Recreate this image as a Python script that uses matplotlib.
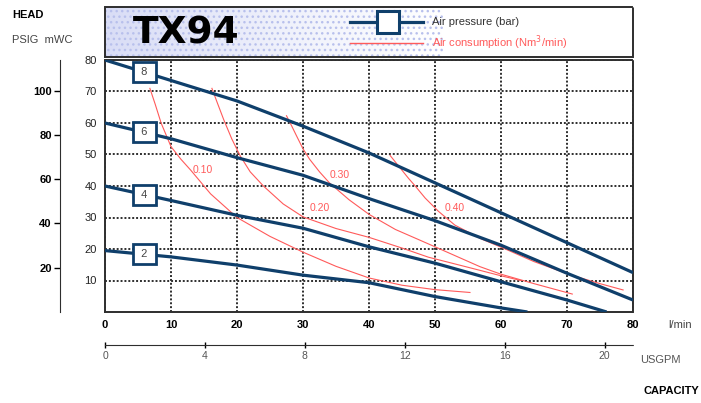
import numpy as np
import matplotlib
matplotlib.use("Agg")
import matplotlib.pyplot as plt
from matplotlib.patches import Rectangle

# pump curves, flow (l/min) vs head (mWC), one per air pressure
bar_labels = ["8", "6", "4", "2"]
p8_flow = [0, 10, 20, 30, 40, 50, 60, 70, 80]
p8_head = [80, 73.5, 67, 59, 50.5, 41, 31.5, 22, 12.5]
p6_flow = [0, 10, 20, 30, 40, 50, 60, 70, 80]
p6_head = [60, 55, 49, 43.4, 36, 29, 21.2, 12.3, 3.8]
p4_flow = [0, 10, 20, 30, 40, 50, 60, 70, 76]
p4_head = [40, 35.4, 30.7, 26.6, 20.7, 15.5, 9.6, 3.8, 0]
p2_flow = [0, 10, 20, 30, 40, 50, 60, 64]
p2_head = [19.5, 17.5, 14.9, 11.7, 9.3, 4.9, 1.3, 0]

# air consumption lines (Nm3/min)
air_labels = ["0.10", "0.20", "0.30", "0.40"]
a10_flow = [6.8, 7.6, 8.5, 9.3, 10, 11.5, 13, 16, 20, 25, 30, 35, 40, 45, 50, 55.3]
a10_head = [71, 66, 60, 56, 52.5, 48.5, 45, 37.5, 30, 24, 19, 14.5, 10.8, 8.5, 7.1, 6.2]
a20_flow = [16.2, 17, 18, 19.2, 20.5, 22, 24, 27, 30, 35, 40, 45, 49, 55, 60, 63]
a20_head = [71, 66.5, 61, 55, 49.5, 44.5, 40, 34.3, 30.2, 26.5, 23.7, 20.3, 17.4, 14.2, 11.5, 10]
a30_flow = [27.5, 28.3, 29, 30, 31, 32.5, 34, 37, 40, 44, 47.5, 50, 56.8, 60, 65, 70.8]
a30_head = [62.3, 59, 56, 51.8, 48.5, 44.5, 41, 35.6, 31, 26.2, 23, 20.7, 14.4, 12, 9, 5.7]
a40_flow = [43.2, 44, 45, 46, 47, 48.5, 50.5, 53, 57, 60, 65, 70.5, 75, 78.5]
a40_head = [49.7, 47.6, 45, 42.4, 40, 36.2, 32, 27.6, 23.2, 20.6, 16, 11.8, 9, 7]

flow_ticks = [0, 10, 20, 30, 40, 50, 60, 70, 80]
head_ticks = [10, 20, 30, 40, 50, 60, 70, 80]
psi_ticks = [20, 40, 60, 80, 100]
gpm_ticks = [0, 4, 8, 12, 16, 20]

blue = "#0f3f6b"
red = "#ff5a5a"
gridc = "#2e2e2e"
dots = (0, (1, 1))

W, H = 701, 403
fig = plt.figure(figsize=(W / 100, H / 100), dpi=100)
plt.rcParams["font.family"] = ["Liberation Sans", "DejaVu Sans"]

ax = fig.add_axes([105 / W, 1 - 312 / H, 528 / W, 252 / H])
ax.set_xlim(0, 80)
ax.set_ylim(0, 80)
ax.set_xticks(flow_ticks)
ax.set_yticks(head_ticks)
ax.tick_params(length=0, labelsize=8)
ax.tick_params(axis="x", pad=6)
ax.tick_params(axis="y", pad=6)
for lab in ax.get_xticklabels():
    lab.set_fontweight("bold")
for lab in ax.get_yticklabels():
    lab.set_color("#222222")
ax.grid(True, color=gridc, linestyle=dots, linewidth=1.4)
for s in ax.spines.values():
    s.set_linestyle(dots)
    s.set_color(gridc)
    s.set_linewidth(1.4)

air = [(a10_flow, a10_head), (a20_flow, a20_head), (a30_flow, a30_head), (a40_flow, a40_head)]
for f, h in air:
    ax.plot(f, h, color=red, linewidth=0.8, zorder=3)
air_pos = [(14.8, 45), (32.6, 33), (35.6, 43.4), (53, 33)]
for (x, y), t in zip(air_pos, air_labels):
    ax.text(x, y, t, color=red, fontsize=7.5, ha="center", va="center", zorder=4)

pumps = [(p8_flow, p8_head), (p6_flow, p6_head), (p4_flow, p4_head), (p2_flow, p2_head)]
for (f, h), t in zip(pumps, bar_labels):
    ax.plot(f, h, color=blue, linewidth=2.3, zorder=5, solid_capstyle="butt")
    ax.text(6, np.interp(6, f, h), " " + t + " ", fontsize=8, color="#444444", ha="center",
            va="center", zorder=6,
            bbox=dict(boxstyle="square,pad=0.45", facecolor="white", edgecolor=blue,
                      linewidth=2))

# PSIG axis on the left
psi = ax.secondary_yaxis(-45 / 528, functions=(lambda m: m / 0.703, lambda p: p * 0.703))
psi.set_yticks(psi_ticks)
psi.tick_params(length=4, width=1, labelsize=8, pad=2)
for lab in psi.get_yticklabels():
    lab.set_fontweight("bold")
psi.spines["left"].set_linestyle(dots)
psi.spines["left"].set_color(gridc)

# USGPM axis below
gpm = ax.secondary_xaxis(-33 / 252, functions=(lambda l: l / 3.785, lambda g: g * 3.785))
gpm.set_xticks(gpm_ticks)
gpm.tick_params(direction="inout", length=5, width=1, labelsize=7.5, labelcolor="#555555", pad=2)
gpm.spines["bottom"].set_linestyle(dots)
gpm.spines["bottom"].set_color(gridc)

# header box with title and legend
hx = fig.add_axes([105 / W, 1 - 57 / H, 528 / W, 50 / H])
hx.set_xlim(0, 1)
hx.set_ylim(0, 1)
hx.set_xticks([])
hx.set_yticks([])
for s in hx.spines.values():
    s.set_linestyle(dots)
    s.set_color(gridc)
    s.set_linewidth(1.4)
grad = np.linspace(0, 1, 200).reshape(1, -1)
cmap = matplotlib.colors.LinearSegmentedColormap.from_list("g", ["#d9ddf6", "#eef0fb", "white"])
hx.imshow(grad, extent=(0, 0.64, 0, 1), aspect="auto", cmap=cmap, zorder=0)
hx.add_patch(Rectangle((0, 0), 0.64, 1, fill=False, hatch="...", edgecolor="#b8c0ec",
                       linewidth=0, zorder=1))
hx.text(0.053, 0.48, "TX94", fontsize=27, fontweight="bold", family="DejaVu Sans",
        ha="left", va="center", zorder=3)
hx.plot([0.464, 0.602], [0.70, 0.70], color=blue, linewidth=2.3, zorder=3)
hx.plot([0.536], [0.70], marker="s", markersize=16, markerfacecolor="white",
        markeredgecolor=blue, markeredgewidth=2.2, zorder=4)
hx.plot([0.464, 0.602], [0.28, 0.28], color=red, linewidth=1.0, zorder=3)
hx.text(0.619, 0.70, "Air pressure (bar)", fontsize=8, color="#333333", va="center")
hx.text(0.619, 0.28, "Air consumption (Nm$^3$/min)", fontsize=8, color=red, va="center")

fig.text(12 / W, 1 - 15 / H, "HEAD", fontsize=8, fontweight="bold", va="center")
fig.text(12 / W, 1 - 40 / H, "PSIG  mWC", fontsize=8, color="#444444", va="center")
fig.text(668 / W, 1 - 325 / H, "l/min", fontsize=8, color="#444444", va="center")
fig.text(640 / W, 1 - 360 / H, "USGPM", fontsize=8, color="#555555", va="center")
fig.text(643 / W, 1 - 391 / H, "CAPACITY", fontsize=8, fontweight="bold", va="center")

fig.savefig("out.png", dpi=100)
